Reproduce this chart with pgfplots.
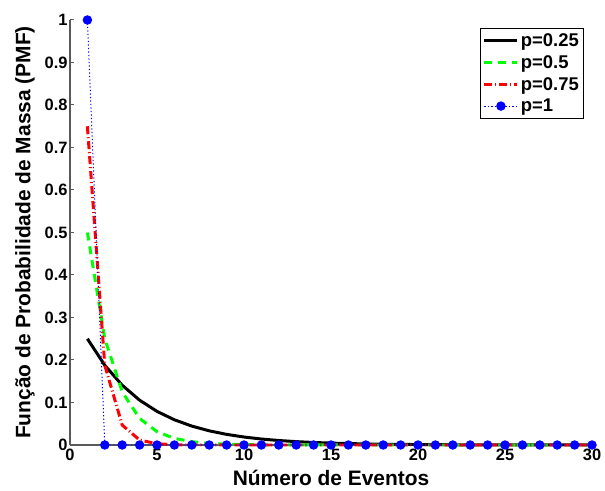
\documentclass[border=0pt]{standalone}
\usepackage{pgfplots}
\pgfplotsset{compat=1.18}
\usepackage{fontspec}
\setmainfont{Liberation Sans}
\begin{document}
\begin{tikzpicture}[x=1bp,y=1bp]
\begin{axis}[
  at={(0,0)}, anchor=south west,
  scale only axis,
  width=522bp, height=425bp,
  xmin=0, xmax=30, ymin=0, ymax=1,
  xtick={0,5,10,15,20,25,30},
  xticklabels={\textbf{0},\textbf{5},\textbf{10},\textbf{15},\textbf{20},\textbf{25},\textbf{30}},
  ytick={0,0.1,0.2,0.3,0.4,0.5,0.6,0.7,0.8,0.9,1},
  yticklabels={\textbf{0},\textbf{0.1},\textbf{0.2},\textbf{0.3},\textbf{0.4},\textbf{0.5},\textbf{0.6},\textbf{0.7},\textbf{0.8},\textbf{0.9},\textbf{1}},
  axis x line*=bottom, axis y line*=left,
  axis line style={-, gray!70!black, line width=1.2pt},
  tick style={gray!70!black, line width=1pt},
  tick align=inside,
  major tick length=4bp,
  tick label style={font=\fontsize{16.5}{18}\selectfont\bfseries},
  label style={font=\fontsize{21}{24}\selectfont\bfseries},
  xticklabel style={yshift=-1bp},
  yticklabel style={xshift=1bp},
  xlabel={\textbf{Número de Eventos}},
  ylabel={\textbf{Função de Probabilidade de Massa (PMF)}},
  xlabel style={yshift=-2bp},
  ylabel style={yshift=3bp},
  clip=false,
  legend style={at={(0.985,0.981)}, anchor=north east, draw=black, line width=0.8pt,
    font=\fontsize{18.5}{20}\selectfont\bfseries, inner xsep=3pt, inner ysep=3pt, row sep=3.5bp},
  legend cell align=left,
  legend image code/.code={\draw[#1] (0bp,0bp) -- (33bp,0bp); \path[#1, only marks] plot coordinates {(16.5bp,0bp)};},
]
\addplot[black, line width=3pt] coordinates {
(1,0.25)(2,0.1875)(3,0.140625)(4,0.105469)(5,0.079102)(6,0.059326)(7,0.044495)(8,0.033371)(9,0.025028)(10,0.018771)
(11,0.014078)(12,0.010559)(13,0.007919)(14,0.005939)(15,0.004454)(16,0.003341)(17,0.002506)(18,0.001879)(19,0.001409)(20,0.001057)
(21,0.000793)(22,0.000595)(23,0.000446)(24,0.000334)(25,0.000251)(26,0.000188)(27,0.000141)(28,0.000106)(29,0.000079)(30,0.000060)};
\addlegendentry{\textbf{p=0.25}}
\addplot[green, line width=3pt, dash pattern=on 8bp off 6bp] coordinates {
(1,0.5)(2,0.25)(3,0.125)(4,0.0625)(5,0.03125)(6,0.015625)(7,0.007813)(8,0.003906)(9,0.001953)(10,0.000977)
(11,0.000488)(12,0.000244)(13,0.000122)(14,0.000061)(15,0.000031)(16,0.000015)(17,0.000008)(18,0.000004)(19,0.000002)(20,0.000001)
(21,0)(22,0)(23,0)(24,0)(25,0)(26,0)(27,0)(28,0)(29,0)(30,0)};
\addlegendentry{\textbf{p=0.5}}
\addplot[red, line width=3pt, dash pattern=on 8bp off 3bp on 1bp off 3bp] coordinates {
(1,0.75)(2,0.1875)(3,0.046875)(4,0.011719)(5,0.00293)(6,0.000732)(7,0.000183)(8,0.000046)(9,0.000011)(10,0.000003)
(11,0.000001)(12,0)(13,0)(14,0)(15,0)(16,0)(17,0)(18,0)(19,0)(20,0)
(21,0)(22,0)(23,0)(24,0)(25,0)(26,0)(27,0)(28,0)(29,0)(30,0)};
\addlegendentry{\textbf{p=0.75}}
\addplot[blue, line width=1pt, dash pattern=on 1.2bp off 2.3bp, mark=*, mark size=4.2bp, mark options={solid, fill=blue, draw=blue}] coordinates {
(1,1)(2,0)(3,0)(4,0)(5,0)(6,0)(7,0)(8,0)(9,0)(10,0)
(11,0)(12,0)(13,0)(14,0)(15,0)(16,0)(17,0)(18,0)(19,0)(20,0)
(21,0)(22,0)(23,0)(24,0)(25,0)(26,0)(27,0)(28,0)(29,0)(30,0)};
\addlegendentry{\textbf{p=1}}
\end{axis}
\pgfresetboundingbox
\path (-70,-46) rectangle (535,445);
\end{tikzpicture}
\end{document}
